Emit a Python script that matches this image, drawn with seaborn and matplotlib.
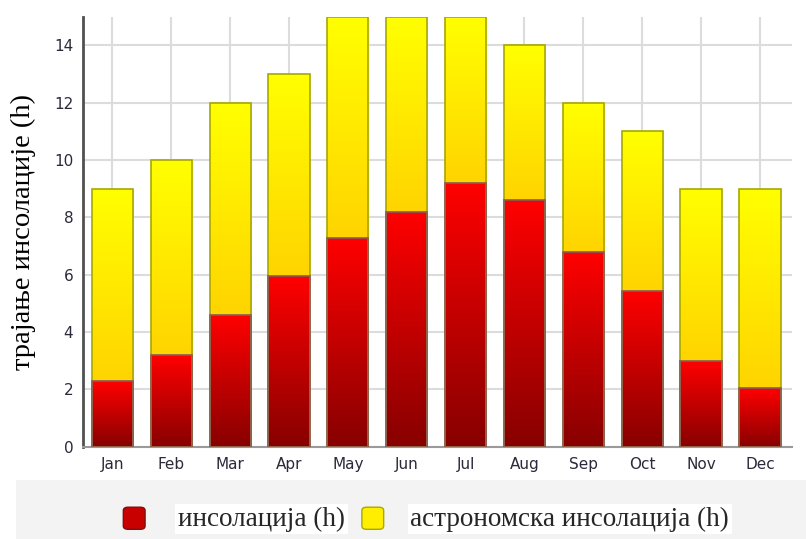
import numpy as np
import pandas as pd
import matplotlib.pyplot as plt
import seaborn as sns
from matplotlib.colors import LinearSegmentedColormap
from matplotlib.patches import Rectangle, FancyBboxPatch
from matplotlib.ticker import MultipleLocator, FixedLocator

months = ["Jan", "Feb", "Mar", "Apr", "May", "Jun",
          "Jul", "Aug", "Sep", "Oct", "Nov", "Dec"]
insolation = [2.3, 3.2, 4.6, 5.95, 7.3, 8.2, 9.2, 8.6, 6.8, 5.45, 3.0, 2.05]
astronomical = [9, 10, 12, 13, 15, 15, 15, 14, 12, 11, 9, 9]

ylabel = "трајање инсолације (h)"
legend_labels = ["инсолација (h)", "астрономска инсолација (h)"]

sns.set_style("white")
plt.rcParams["font.family"] = ["DejaVu Sans"]

df = pd.DataFrame({"month": months, "ins": insolation, "astro": astronomical})

fig = plt.figure(figsize=(8.06, 5.39), dpi=100)
ax = fig.add_axes([0.103, 0.171, 0.880, 0.798])

sns.barplot(data=df, x="month", y="astro", color="#ffff00", width=0.7,
            saturation=1, ax=ax)
sns.barplot(data=df, x="month", y="ins", color="#ff0000", width=0.7,
            saturation=1, ax=ax)

red_cmap = LinearSegmentedColormap.from_list("r", ["#870000", "#ff0000"])
yel_cmap = LinearSegmentedColormap.from_list("y", ["#ffd400", "#ffff00"])
grad = np.linspace(0, 1, 256).reshape(-1, 1)

patches = list(ax.patches)
n = len(months)
for i, p in enumerate(patches):
    x0 = p.get_x()
    w = p.get_width()
    top = p.get_y() + p.get_height()
    if i < n:
        bottom = insolation[i]
        cmap, z = yel_cmap, 2
        p.set_edgecolor("#a8a800")
    else:
        bottom = 0
        cmap, z = red_cmap, 3
        p.set_edgecolor("#8a5a5a")
    im = ax.imshow(grad, cmap=cmap, origin="lower", aspect="auto",
                   extent=[x0, x0 + w, bottom, top], zorder=z)
    im.set_clip_path(p)
    p.set_facecolor("none")
    p.set_linewidth(1.2)
    p.set_zorder(4)

ax.set_xlim(-0.5, 11.55)
ax.set_ylim(0, 15)
ax.yaxis.set_major_locator(MultipleLocator(2))
ax.yaxis.set_minor_locator(MultipleLocator(1))
ax.xaxis.set_minor_locator(FixedLocator(np.arange(-0.5, 12, 1)))
ax.set_axisbelow(True)
ax.grid(True, which="major", color="#dcdcdc", linewidth=1.5)

for s in ["top", "right"]:
    ax.spines[s].set_visible(False)
ax.spines["left"].set_color("#505050")
ax.spines["left"].set_linewidth(2)
ax.spines["bottom"].set_color("#9a9a9a")
ax.spines["bottom"].set_linewidth(1.5)

ax.tick_params(axis="both", which="major", length=5, width=1.2,
               color="#808080", labelsize=11, labelcolor="#2a2a3a", pad=2)
ax.tick_params(axis="both", which="minor", length=3.5, width=1.2,
               color="#808080")
ax.set_xlabel("")
ax.set_ylabel(ylabel, family="Liberation Serif", fontsize=20.5, color="black")
ax.yaxis.set_label_coords(-0.066, 0.5)

# legend band
fig.patches.append(Rectangle((0.02, 0.0), 0.98, 0.109, transform=fig.transFigure,
                             facecolor="#f3f3f3", edgecolor="none", zorder=0))
marker_specs = [(0.153, "#c80000", "#7a1010"), (0.449, "#ffee00", "#a8a800")]
text_x = [0.221, 0.509]
for (mx, fc, ec), tx, lab in zip(marker_specs, text_x, legend_labels):
    fig.patches.append(FancyBboxPatch((mx, 0.018), 0.027, 0.041,
                                      boxstyle="round,pad=0,rounding_size=0.006",
                                      transform=fig.transFigure,
                                      facecolor=fc, edgecolor=ec, linewidth=1))
    fig.text(tx, 0.037, lab, family="Liberation Serif", fontsize=19.5,
             va="center", ha="left",
             bbox=dict(facecolor="white", edgecolor="none", pad=2))

fig.savefig("out.png", dpi=100)
